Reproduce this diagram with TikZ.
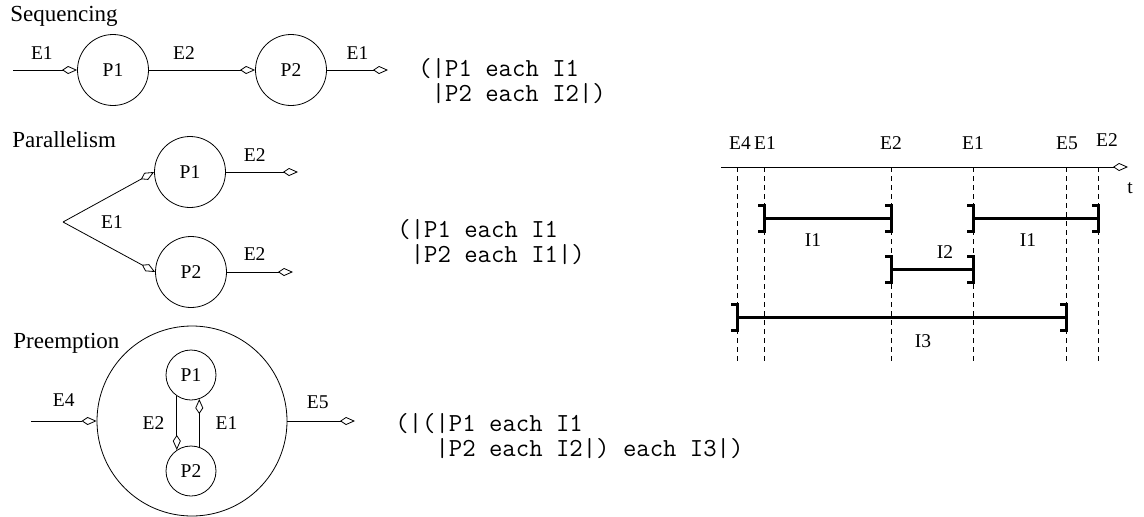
\documentclass[tikz,border=0pt]{standalone}
\usepackage{fontspec}
\setmainfont{Liberation Serif}
\usetikzlibrary{arrows.meta}

\begin{document}
\begin{tikzpicture}[x=1pt,y=-1pt,
        font=\fontsize{19.5}{22}\selectfont,
        line width=0.8pt, inner sep=0pt,
        proc/.style={circle,draw,minimum size=#1},
        proc/.default=71pt,
        ev/.style={-{Kite[open,length=15pt,width=8pt,inset=6pt]}},
        title/.style={anchor=base west,font=\fontsize{23}{26}\selectfont},
        code/.style={anchor=west,align=left,font=\fontsize{26}{25}\ttfamily},
        bar/.style={line width=3pt,line join=miter},
        tick/.style={dash pattern=on 5pt off 4pt}]
    \useasboundingbox (0,0) rectangle (1144,517);

    % sequencing
    \node[title] (seq) at (10,21) {Sequencing};
    \node[proc] (sp1) at (113,70) {P1};
    \node[proc] (sp2) at (291,70) {P2};
    \coordinate (sin) at (13,70);
    \coordinate (sout) at (388,70);
    \draw[ev] (sin) -- node[above=10pt,pos=0.45] {E1} (sp1);
    \draw[ev] (sp1) -- node[above=10pt,pos=0.33] {E2} (sp2);
    \draw[ev] (sp2) -- node[above=10pt] {E1} (sout);
    \node[code] (scode) at (418,81) {(|P1 each I1\\\phantom{(}|P2 each I2|)};

    % parallelism
    \node[title] (par) at (12,147) {Parallelism};
    \node[proc] (pp1) at (190,172) {P1};
    \node[proc] (pp2) at (191,272) {P2};
    \coordinate (fork) at (63,222);
    \coordinate (pout1) at (298,172);
    \coordinate (pout2) at (293,272);
    \foreach \to in {pp1,pp2}
        \draw[ev] (fork) -- (\to.west);
    \node (pe1) at (112,222) {E1};
    \draw[ev] (pp1) -- node[above=10pt,pos=0.4] {E2} (pout1);
    \draw[ev] (pp2) -- node[above=11pt,pos=0.42] {E2} (pout2);
    \node[code] (pcode) at (397,242) {(|P1 each I1\\\phantom{(}|P2 each I1|)};

    % preemption
    \node[title] (pre) at (13,348) {Preemption};
    \node[proc=190pt] (big) at (192,421) {};
    \node[proc=50pt] (ip1) at (191,375) {P1};
    \node[proc=50pt] (ip2) at (191,471) {P2};
    \coordinate (e4in) at (31,421);
    \coordinate (e5out) at (355,421);
    \draw[ev] (e4in) -- node[above=14pt] {E4} (big);
    \draw[ev] (big) -- node[above=12pt,pos=0.45] {E5} (e5out);
    \draw[ev] (ip1.-124) -- node[left=12pt] {E2} (ip2.124);
    \draw[ev] (ip2.71) -- node[right=16pt] {E1} (ip1.-71);
    \node[code] (ecode) at (395,436) {(|(|P1 each I1\\\phantom{(|(}|P2 each I2|) each I3|)};

    % time line
    \coordinate (t0) at (721,167);
    \coordinate (t1) at (1128,167);
    \draw[ev] (t0) -- (t1);
    \node (tl) at (1130,188) {t};
    \foreach \tk/\x/\lx/\ly/\txt in {e4/737/740/143/E4, e1a/764/765/143/E1,
            e2a/891/891/143/E2, e1b/973/973/143/E1, e5/1066/1067/143/E5,
            e2b/1098/1107/140/E2} {
        \coordinate (\tk) at (\x,167);
        \draw[tick] (\tk) -- (\tk |- 0,363);
        \node (l\tk) at (\lx,\ly) {\txt};
    }

    % intervals
    \foreach \from/\to/\y/\lx/\ly/\txt/\nm in {e1a/e2a/218/813/240/I1/i1a,
            e1b/e2b/218/1028/240/I1/i1b, e2a/e1b/269/945/252/I2/i2,
            e4/e5/317/923/341/I3/i3} {
        \draw[bar] (\from |- 0,\y) -- (\to |- 0,\y);
        \foreach \e in {\from,\to}
            \draw[bar] (\e |- 0,\y) ++(-6,-13) -- ++(6,0) -- ++(0,26) -- ++(-6,0);
        \node (\nm) at (\lx,\ly) {\txt};
    }
\end{tikzpicture}
\end{document}
